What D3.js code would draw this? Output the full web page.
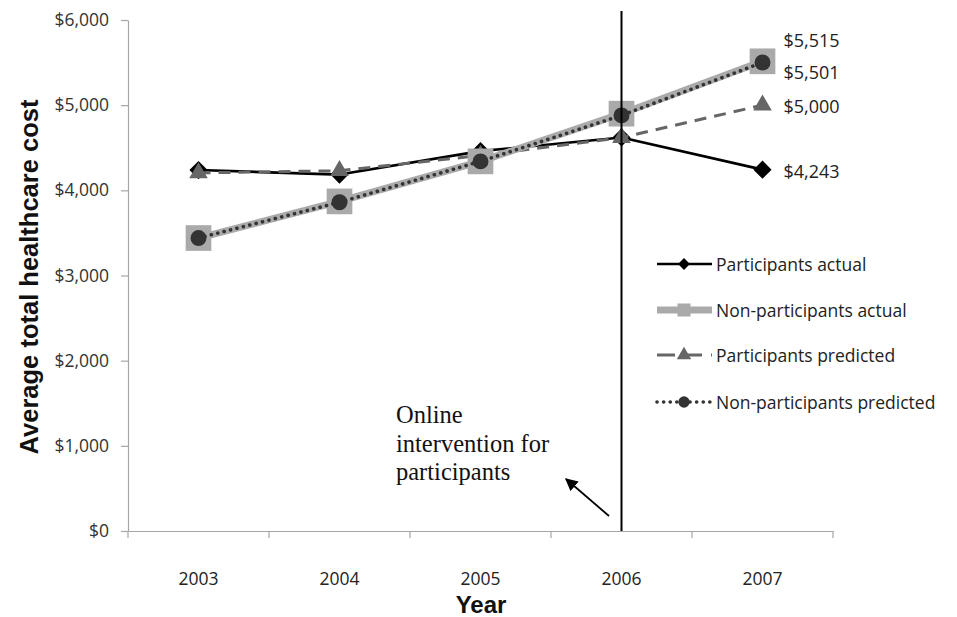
<!DOCTYPE html>
<html>
<head>
<meta charset="utf-8">
<script src="https://cdn.jsdelivr.net/npm/d3@7"></script>
<style>
  html, body { margin: 0; padding: 0; background: #fff; }
  svg { display: block; }
</style>
</head>
<body>
<svg id="chart" width="957" height="617"></svg>
<script>
// ---- data ----
const years = ["2003", "2004", "2005", "2006", "2007"];
const participantsActual = [4238, 4185, 4460, 4620, 4243];
const nonParticipantsActual = [3440, 3870, 4340, 4900, 5515];
const participantsPredicted = [4205, 4230, 4410, 4620, 5000];
const nonParticipantsPredicted = [3440, 3860, 4340, 4880, 5501];
const yTicks = [0, 1000, 2000, 3000, 4000, 5000, 6000];
const seriesNames = ["Participants actual", "Non-participants actual", "Participants predicted", "Non-participants predicted"];
const interventionYear = "2006";
const annotationLines = ["Online", "intervention for", "participants"];

(function () {
// ---- layout ----
const svg = d3.select("#chart");
const pLeft = 128, pRight = 833, pTop = 20, pBottom = 531;
const x = d3.scaleBand().domain(years).range([pLeft, pRight]).padding(0);
const y = d3.scaleLinear().domain([0, 6000]).range([pBottom, pTop]);
const cx = d => x(d) + x.bandwidth() / 2;
const fmt = d3.format("$,");
const tickFont = "'Open Sans', sans-serif";

// y axis
const yAxis = svg.append("g").attr("transform", `translate(${pLeft},0)`)
  .call(d3.axisLeft(y).tickValues(yTicks).tickFormat(fmt).tickSize(7).tickSizeOuter(0).tickPadding(12));
yAxis.select(".domain").attr("stroke", "#a6a6a6").attr("stroke-width", 1.2);
yAxis.selectAll(".tick line").attr("stroke", "#a6a6a6").attr("stroke-width", 1.2);
yAxis.selectAll(".tick text").attr("font-family", tickFont).attr("font-size", 17.5).attr("fill", "#333");

// x axis
const xAxis = svg.append("g").attr("transform", `translate(0,${pBottom})`)
  .call(d3.axisBottom(x).tickSize(0).tickPadding(42));
xAxis.select(".domain").attr("stroke", "#a6a6a6").attr("stroke-width", 1.2);
xAxis.selectAll(".tick text").attr("font-family", tickFont).attr("font-size", 17.5).attr("fill", "#222");
const boundaries = years.map(d => x(d)).concat([x(years[years.length - 1]) + x.bandwidth()]);
xAxis.selectAll(".bound").data(boundaries).enter().append("line")
  .attr("x1", d => d).attr("x2", d => d).attr("y1", 0).attr("y2", 7)
  .attr("stroke", "#a6a6a6").attr("stroke-width", 1.2);

// axis titles
svg.append("text").attr("transform", `translate(38,277) rotate(-90)`)
  .attr("text-anchor", "middle").attr("font-family", "'Liberation Sans', Arial, sans-serif")
  .attr("font-weight", "bold").attr("font-size", 25.5).attr("fill", "#111")
  .text("Average total healthcare cost");
svg.append("text").attr("x", 481).attr("y", 613)
  .attr("text-anchor", "middle").attr("font-family", "'Liberation Sans', Arial, sans-serif")
  .attr("font-weight", "bold").attr("font-size", 24).attr("fill", "#111").text("Year");

// series styles
const diamond = d3.symbolSquare;
const styles = [
  { data: participantsActual, stroke: "#000", width: 2.6, dash: null, symbol: diamond, rot: 45, size: 165, fill: "#000", lsize: 70 },
  { data: participantsPredicted, stroke: "#666", width: 3, dash: "12,8", symbol: d3.symbolTriangle, rot: 0, size: 150, fill: "#666", lsize: 90 },
  { data: nonParticipantsActual, stroke: "#aaa", width: 7, dash: null, symbol: d3.symbolSquare, rot: 0, size: 660, fill: "#aaa", lsize: 170 },
  { data: nonParticipantsPredicted, stroke: "#333", width: 3.6, dash: "0.1,6.5", symbol: d3.symbolCircle, rot: 0, size: 200, fill: "#333", lsize: 100 }
];
const isDot = s => s.dash && s.dash.startsWith("0.1");
const line = d3.line().x((d, i) => cx(years[i])).y(d => y(d));
styles.forEach(s => {
  svg.append("path").datum(s.data).attr("d", line)
    .attr("fill", "none").attr("stroke", s.stroke).attr("stroke-width", s.width)
    .attr("stroke-dasharray", s.dash).attr("stroke-linecap", isDot(s) ? "round" : "butt")
    .attr("stroke-linejoin", "round");
  svg.selectAll(null).data(s.data).enter().append("path")
    .attr("d", d3.symbol().type(s.symbol).size(s.size))
    .attr("transform", (d, i) => `translate(${cx(years[i])},${y(d)}) rotate(${s.rot})`)
    .attr("fill", s.fill);
});

// end-value labels
const last = years.length - 1;
const endLabels = [
  { v: nonParticipantsActual[last], dy: -21 },
  { v: nonParticipantsPredicted[last], dy: 9.5 },
  { v: participantsPredicted[last], dy: 1 },
  { v: participantsActual[last], dy: 1 }
];
svg.selectAll(".endlab").data(endLabels).enter().append("text")
  .attr("x", cx(years[last]) + 21).attr("y", d => y(d.v) + d.dy)
  .attr("dominant-baseline", "central").attr("font-family", tickFont)
  .attr("font-size", 18).attr("fill", "#222").text(d => fmt(d.v));

// intervention line
svg.append("line").attr("x1", cx(interventionYear)).attr("x2", cx(interventionYear))
  .attr("y1", 11).attr("y2", pBottom).attr("stroke", "#000").attr("stroke-width", 2);

// annotation
svg.append("defs").append("marker").attr("id", "arrow").attr("viewBox", "0 0 10 10")
  .attr("refX", 9).attr("refY", 5).attr("markerWidth", 7).attr("markerHeight", 7)
  .attr("orient", "auto").append("path").attr("d", "M0,0 L10,5 L0,10 z").attr("fill", "#000");
svg.append("line").attr("x1", 609).attr("y1", 516).attr("x2", 566).attr("y2", 479)
  .attr("stroke", "#000").attr("stroke-width", 1.8).attr("marker-end", "url(#arrow)");
svg.selectAll(".ann").data(annotationLines).enter().append("text")
  .attr("x", 396).attr("y", (d, i) => 423 + i * 28.5)
  .attr("font-family", "'Liberation Serif', 'Times New Roman', serif")
  .attr("font-size", 24.5).attr("fill", "#111").text(d => d);

// legend
const legendRows = [
  { name: seriesNames[0], s: styles[0] },
  { name: seriesNames[1], s: styles[2] },
  { name: seriesNames[2], s: styles[1] },
  { name: seriesNames[3], s: styles[3] }
];
const legendY = [264, 310, 355, 402];
legendRows.forEach((r, i) => {
  const g = svg.append("g").attr("transform", `translate(0,${legendY[i]})`);
  g.append("line").attr("x1", 657).attr("x2", 712).attr("y1", 0).attr("y2", 0)
    .attr("stroke", r.s.stroke).attr("stroke-width", r.s.width)
    .attr("stroke-dasharray", r.s.dash === "12,8" ? "18,9" : r.s.dash)
    .attr("stroke-linecap", isDot(r.s) ? "round" : "butt");
  g.append("path").attr("d", d3.symbol().type(r.s.symbol).size(r.s.lsize))
    .attr("transform", `translate(684,0) rotate(${r.s.rot})`).attr("fill", r.s.fill);
  g.append("text").attr("x", 716).attr("y", 0).attr("dominant-baseline", "central")
    .attr("font-family", tickFont).attr("font-size", 17.5).attr("fill", "#222").text(r.name);
});
})();
</script>
</body>
</html>
